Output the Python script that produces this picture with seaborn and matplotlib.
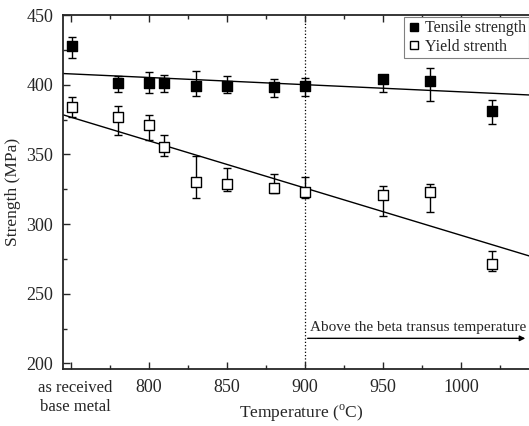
import numpy as np
import pandas as pd
import matplotlib.pyplot as plt
import seaborn as sns
from matplotlib.lines import Line2D
from matplotlib.ticker import MultipleLocator


# values (751 = "as received base metal")
temperature = [751, 780, 800, 810, 830, 850, 880, 900, 950, 980, 1020]
tensile = [428, 401, 401, 401, 399, 399, 398, 399, 404, 403, 381]
tensile_low = [419, 395, 394, 395, 392, 394, 391, 392, 395, 388, 372]
tensile_high = [434, 406, 409, 407, 410, 406, 404, 405, 407, 412, 389]
yield_str = [384, 377, 371, 355, 330, 329, 326, 323, 321, 323, 271]
yield_low = [377, 364, 360, 349, 319, 324, 322, 319, 306, 309, 266]
yield_high = [391, 385, 378, 364, 349, 340, 336, 334, 327, 329, 281]

# fitted trend lines
fit_temp = [745, 1050]
fit_tensile = [408, 392.3]
fit_yield = [378.4, 275]

xtick_pos = [750, 800, 850, 900, 950, 1000]
xtick_lab = ['', '800', '850', '900', '950', '1000']

df = pd.DataFrame({
    'temp': temperature,
    'tensile': tensile,
    'yield': yield_str,
})
fit = pd.DataFrame({'temp': fit_temp, 'tensile': fit_tensile, 'yield': fit_yield})

sns.set_theme(style='ticks')
plt.rcParams['font.family'] = ['Liberation Serif', 'DejaVu Serif']
plt.rcParams['mathtext.fontset'] = 'custom'
plt.rcParams['mathtext.rm'] = 'Liberation Serif'

fig = plt.figure(figsize=(5.29, 4.26), dpi=100)
ax = fig.add_axes([63 / 529, 57 / 426, 476 / 529, 354 / 426])

# error bars
ax.errorbar(df['temp'], df['tensile'],
            yerr=[df['tensile'] - np.array(tensile_low), np.array(tensile_high) - df['tensile']],
            fmt='none', ecolor='black', elinewidth=1, capsize=3, capthick=1, zorder=2)
ax.errorbar(df['temp'], df['yield'],
            yerr=[df['yield'] - np.array(yield_low), np.array(yield_high) - df['yield']],
            fmt='none', ecolor='black', elinewidth=1, capsize=3, capthick=1, zorder=2)

# fit lines
sns.lineplot(data=fit, x='temp', y='tensile', color='black', linewidth=1, ax=ax, zorder=1)
sns.lineplot(data=fit, x='temp', y='yield', color='black', linewidth=1, ax=ax, zorder=1)

# markers
sns.scatterplot(data=df, x='temp', y='tensile', marker='s', s=55, color='black',
                edgecolor='black', linewidth=1, ax=ax, zorder=3)
sns.scatterplot(data=df, x='temp', y='yield', marker='s', s=45, color='white',
                edgecolor='black', linewidth=1, ax=ax, zorder=3)

# beta transus marker
ax.axvline(900, color='black', linestyle=':', linewidth=0.9, zorder=0)
ax.annotate('', xy=(1043, 218), xytext=(900, 218),
            arrowprops=dict(arrowstyle='-|>', color='black', lw=1, mutation_scale=8))
ax.text(903, 221, 'Above the beta transus temperature', fontsize=11,
        ha='left', va='bottom')

ax.set_xlim(745, 1050)
ax.set_ylim(196, 450)
ax.set_xticks(xtick_pos)
ax.set_xticklabels(xtick_lab)
ax.xaxis.set_minor_locator(MultipleLocator(25))
ax.set_yticks([200, 250, 300, 350, 400, 450])
ax.yaxis.set_minor_locator(MultipleLocator(25))
ax.tick_params(which='both', direction='in', top=True, right=False, labelsize=13, pad=7)
ax.tick_params(which='major', length=5, width=1)
ax.tick_params(which='minor', length=3, width=1)
for s in ['left', 'bottom', 'top']:
    ax.spines[s].set_linewidth(1.3)
    ax.spines[s].set_visible(True)
ax.spines['right'].set_visible(False)

ax.text(753, -0.03, 'as received\nbase metal', transform=ax.get_xaxis_transform(),
        ha='center', va='top', fontsize=12, linespacing=1.25)

ax.set_xlabel(r'Temperature ($^\mathrm{o}$C)', fontsize=12.5, labelpad=5)
ax.set_ylabel('Strength (MPa)', fontsize=12.5, labelpad=4)

handles = [
    Line2D([], [], marker='s', linestyle='', markersize=6, markerfacecolor='black',
           markeredgecolor='black', label='Tensile strength'),
    Line2D([], [], marker='s', linestyle='', markersize=6, markerfacecolor='white',
           markeredgecolor='black', label='Yield strenth'),
]
leg = ax.legend(handles=handles, loc='upper left', bbox_to_anchor=(404 / 529, 1 - 17 / 426),
                bbox_transform=fig.transFigure, borderaxespad=0, fontsize=11.5,
                frameon=True, fancybox=False, framealpha=1, edgecolor='gray',
                handlelength=0.8, handletextpad=0.3, borderpad=0.2, labelspacing=0.15)
leg.get_frame().set_linewidth(0.8)

plt.savefig('out.png', dpi=100)
